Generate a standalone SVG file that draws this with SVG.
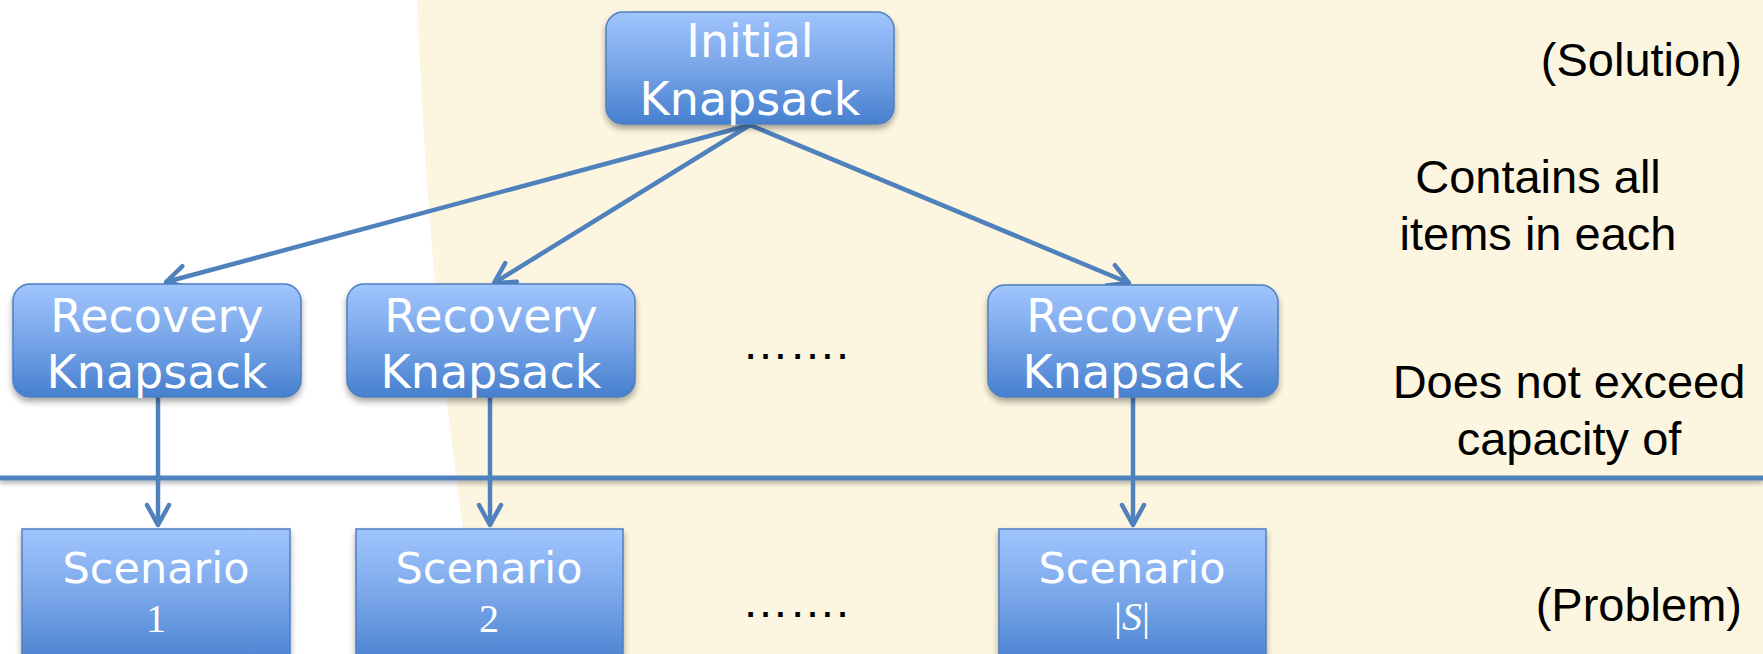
<svg xmlns="http://www.w3.org/2000/svg" width="1763" height="654" viewBox="0 0 1763 654">
<defs>
<linearGradient id="boxGrad" x1="0" y1="0" x2="0" y2="1">
<stop offset="0" stop-color="#A0C5FE"/>
<stop offset="0.45" stop-color="#7CA8EA"/>
<stop offset="1" stop-color="#4680CE"/>
</linearGradient>
<filter id="shadow" x="-10%" y="-10%" width="130%" height="140%">
<feGaussianBlur in="SourceAlpha" stdDeviation="3"/>
<feOffset dx="0" dy="4" result="b"/>
<feComponentTransfer><feFuncA type="linear" slope="0.35"/></feComponentTransfer>
<feMerge><feMergeNode/><feMergeNode in="SourceGraphic"/></feMerge>
</filter>
<filter id="lineShadow" filterUnits="userSpaceOnUse" x="0" y="460" width="1763" height="40">
<feGaussianBlur in="SourceAlpha" stdDeviation="2"/>
<feOffset dx="0" dy="3"/>
<feComponentTransfer><feFuncA type="linear" slope="0.3"/></feComponentTransfer>
<feMerge><feMergeNode/><feMergeNode in="SourceGraphic"/></feMerge>
</filter>
<marker id="arrow" markerUnits="userSpaceOnUse" markerWidth="28" markerHeight="28" viewBox="0 0 28 28" refX="23" refY="14" orient="auto">
<path d="M3,3 L23,14 L3,25" fill="none" stroke="#4F81BD" stroke-width="4.5" stroke-linecap="round" stroke-linejoin="round"/>
</marker>
</defs>
<style>
.box{fill:url(#boxGrad);stroke:#4F7FC0;stroke-width:1.5;filter:url(#shadow)}
.btxt{font-family:"DejaVu Sans",Verdana,sans-serif;font-size:46px;fill:#FFFFFF;text-anchor:middle}
.stxt{font-family:"DejaVu Sans",Verdana,sans-serif;font-size:43px;fill:#FFFFFF;text-anchor:middle}
.num{font-family:"Liberation Serif",serif;font-size:40px;fill:#FFFFFF;text-anchor:middle}
.side{font-family:"Liberation Sans",Arial,sans-serif;font-size:47px;fill:#000000}
.conn{stroke:#4F81BD;stroke-width:4.5;fill:none;marker-end:url(#arrow)}
</style>
<rect x="0" y="0" width="1763" height="654" fill="#FFFFFF"/>
<path d="M417,0 C427,250 449,450 482,654 L1763,654 L1763,0 Z" fill="#FCF5DF"/>
<g id="divider">
<rect x="0" y="475.5" width="1763" height="5" fill="#4F81BD" filter="url(#lineShadow)"/>
</g>
<g id="connectors">
<line class="conn" x1="750" y1="125" x2="166" y2="282"/>
<line class="conn" x1="750" y1="125" x2="494" y2="283"/>
<line class="conn" x1="750" y1="125" x2="1129" y2="283"/>
<line class="conn" x1="158" y1="397" x2="158" y2="525"/>
<line class="conn" x1="490" y1="397" x2="490" y2="525"/>
<line class="conn" x1="1133" y1="397" x2="1133" y2="525"/>
</g>
<g id="initial">
<rect class="box" x="606" y="12" width="288" height="112" rx="17"/>
<text class="btxt" x="750" y="57">Initial</text>
<text class="btxt" x="750" y="115">Knapsack</text>
</g>
<g id="recovery1">
<rect class="box" x="13" y="284" width="288" height="113" rx="17"/>
<text class="btxt" x="157" y="332">Recovery</text>
<text class="btxt" x="157" y="388">Knapsack</text>
</g>
<g id="recovery2">
<rect class="box" x="347" y="284" width="288" height="113" rx="17"/>
<text class="btxt" x="491" y="332">Recovery</text>
<text class="btxt" x="491" y="388">Knapsack</text>
</g>
<g id="recovery3">
<rect class="box" x="988" y="285" width="290" height="112" rx="17"/>
<text class="btxt" x="1133" y="332">Recovery</text>
<text class="btxt" x="1133" y="388">Knapsack</text>
</g>
<g id="scenario1">
<rect class="box" x="22" y="529" width="268" height="140"/>
<text class="stxt" x="156" y="583">Scenario</text>
<text class="num" x="156" y="632">1</text>
</g>
<g id="scenario2">
<rect class="box" x="356" y="529" width="267" height="140"/>
<text class="stxt" x="489" y="583">Scenario</text>
<text class="num" x="489" y="632">2</text>
</g>
<g id="scenario3">
<rect class="box" x="999" y="529" width="267" height="140"/>
<text class="stxt" x="1132" y="583">Scenario</text>
<text class="num" x="1132" y="630">|<tspan font-style="italic">S</tspan>|</text>
</g>
<g id="labels">
<text class="side" x="742" y="359">…….</text>
<text class="side" x="742" y="617">…….</text>
<text class="side" x="1742" y="76" text-anchor="end">(Solution)</text>
<text class="side" x="1538" y="193" text-anchor="middle">Contains all</text>
<text class="side" x="1538" y="250" text-anchor="middle">items in each</text>
<text class="side" x="1569" y="398" text-anchor="middle">Does not exceed</text>
<text class="side" x="1569" y="455" text-anchor="middle">capacity of</text>
<text class="side" x="1742" y="621" text-anchor="end">(Problem)</text>
</g>
</svg>
